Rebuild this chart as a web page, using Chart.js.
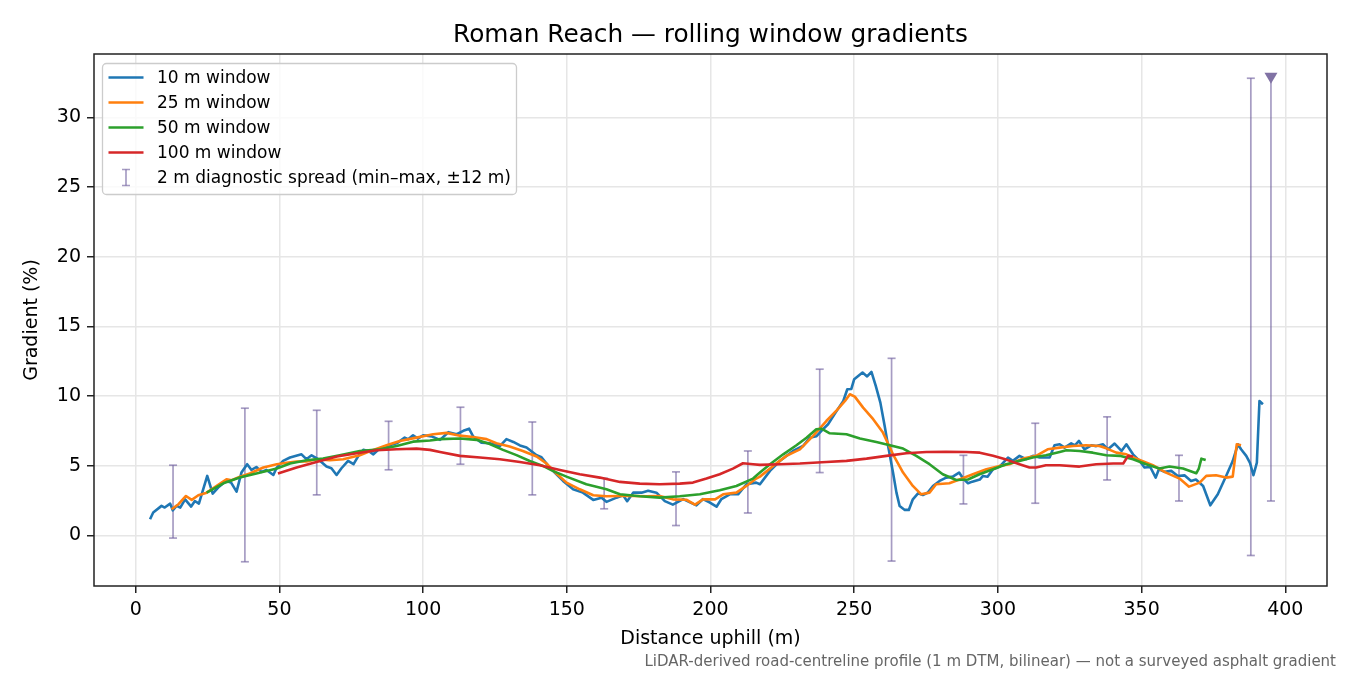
<!DOCTYPE html>
<html><head><meta charset="utf-8">
<script src="https://cdn.jsdelivr.net/npm/chart.js@4.4.0/dist/chart.umd.min.js"></script>
<style>html,body{margin:0;padding:0;background:#fff}canvas{display:block}</style>
</head><body>
<canvas id="c" width="1350" height="675"></canvas>
<script>
// ---------- data ----------
const titleText = 'Roman Reach — rolling window gradients';
const footText = 'LiDAR-derived road-centreline profile (1 m DTM, bilinear) — not a surveyed asphalt gradient';
const xAxisLabel = 'Distance uphill (m)';
const yAxisLabel = 'Gradient (%)';
const xTickVals = [0, 50, 100, 150, 200, 250, 300, 350, 400];
const yTickVals = [0, 5, 10, 15, 20, 25, 30];

const seriesLabels = ['10 m window', '25 m window', '50 m window', '100 m window'];
const seriesColors = ['#1f77b4', '#ff7f0e', '#2ca02c', '#d62728'];
const spreadLabel = '2 m diagnostic spread (min–max, ±12 m)';

const w10Dist = [5.0,6.1,9.0,10.1,12.0,12.9,14.2,15.5,17.2,19.3,20.6,22.0,24.9,26.8,28.7,31.4,33.2,35.1,36.8,38.8,40.3,42.0,43.8,45.5,47.9,49.1,51.3,53.7,57.7,59.4,61.2,63.5,66.4,68.1,69.9,71.6,73.9,75.8,77.5,79.2,81.0,82.7,84.4,87.3,90.8,93.6,94.8,96.5,98.2,100.0,103.0,105.9,108.8,111.7,114.0,116.0,117.4,120.3,123.2,126.7,129.0,131.4,133.7,136.0,139.5,141.2,143.5,145.8,148.7,152.2,155.6,159.2,162.1,163.8,167.3,169.6,171.0,173.1,176.0,178.3,181.2,184.1,186.9,190.5,195.1,197.4,199.8,202.1,203.8,206.7,209.6,212.5,215.9,217.2,220.7,224.1,228.7,232.2,234.5,236.8,238.6,240.9,243.9,246.2,247.6,249.0,250.0,252.9,254.5,256.0,257.5,259.1,260.6,261.8,263.5,264.7,265.8,267.6,269.0,270.4,272.2,273.9,275.6,277.4,279.7,282.0,284.3,286.5,287.9,289.6,291.1,293.7,294.8,296.4,298.3,300.6,303.5,305.2,307.5,309.8,312.2,314.5,318.0,319.7,321.5,323.2,325.5,326.8,328.2,330.1,332.5,334.2,336.6,338.3,340.6,343.0,344.7,347.0,349.3,351.0,353.0,354.9,356.0,358.0,360.3,362.6,364.9,367.2,368.9,371.4,373.9,376.5,379.4,381.7,383.5,384.6,386.4,387.7,388.9,390.1,391.0,392.2];
const w10Grad = [1.15,1.63,2.11,1.99,2.27,1.79,2.11,1.99,2.58,2.06,2.46,2.27,4.26,2.99,3.42,3.9,3.78,3.13,4.5,5.1,4.69,4.9,4.55,4.69,4.33,4.86,5.34,5.58,5.81,5.46,5.74,5.46,4.93,4.81,4.33,4.81,5.34,5.1,5.7,6.13,6.05,5.81,6.13,6.41,6.6,7.01,6.89,7.18,6.94,7.18,7.1,6.85,7.4,7.25,7.5,7.65,7.1,6.65,6.6,6.4,6.9,6.7,6.45,6.3,5.75,5.6,5.0,4.5,3.9,3.3,3.06,2.54,2.7,2.4,2.7,2.87,2.45,3.06,3.06,3.2,3.06,2.45,2.2,2.6,2.15,2.6,2.35,2.05,2.6,2.94,2.94,3.66,3.78,3.66,4.62,5.33,6.05,6.41,7.0,7.1,7.5,7.97,8.93,9.64,10.48,10.5,11.2,11.68,11.4,11.73,10.72,9.52,7.85,6.41,4.5,3.06,2.1,1.82,1.82,2.58,3.01,2.89,3.06,3.54,3.9,4.14,4.21,4.5,4.07,3.73,3.85,4.0,4.26,4.2,4.74,4.93,5.58,5.34,5.7,5.46,5.7,5.58,5.58,6.46,6.53,6.29,6.6,6.45,6.77,6.17,6.46,6.4,6.53,6.17,6.58,6.05,6.53,5.81,5.34,4.86,4.9,4.14,4.74,4.55,4.62,4.26,4.3,3.9,4.0,3.54,2.15,2.94,4.26,5.33,6.53,6.17,5.7,5.2,4.31,5.22,9.64,9.4];

const w25Dist = [12.5,14.9,17.5,19.5,21.8,24.7,28.2,31.6,33.4,36.3,39.7,44.4,49.1,52.5,56.0,59.5,62.9,67.5,72.2,78.0,82.7,87.3,91.9,97.7,100.5,103.5,108.2,112.8,117.4,122.1,125.5,130.1,134.7,139.5,142.8,146.3,149.9,154.5,159.2,163.8,168.5,173.1,177.7,182.3,186.9,191.6,194.6,197.4,201.6,204.4,209.0,212.5,215.9,217.2,221.8,226.4,231.1,235.7,240.3,243.9,246.8,248.5,250.2,253.1,256.6,260.0,263.5,267.0,270.4,273.3,276.2,278.5,283.1,286.6,291.3,296.0,300.6,304.0,308.7,313.3,317.3,321.5,326.1,330.7,335.3,337.7,341.2,344.7,349.3,353.9,358.5,363.2,366.5,370.2,372.5,375.9,379.4,381.7,383.1,384.6];
const w25Grad = [1.87,2.23,2.82,2.54,2.87,3.06,3.54,4.02,3.95,4.21,4.43,4.86,5.1,5.2,5.3,5.3,5.46,5.38,5.46,5.74,6.13,6.46,6.77,7.01,7.13,7.25,7.35,7.15,7.05,6.9,6.6,6.37,6.05,5.65,5.17,4.45,3.78,3.3,2.87,2.8,2.82,2.82,2.8,2.82,2.58,2.55,2.2,2.58,2.58,2.94,3.06,3.54,4.07,4.21,4.98,5.7,6.17,7.13,8.2,8.97,9.64,10.12,9.95,9.16,8.33,7.37,5.81,4.5,3.54,2.94,3.06,3.66,3.73,4.0,4.38,4.74,4.98,5.1,5.5,5.7,6.17,6.29,6.41,6.46,6.41,6.24,5.93,5.81,5.41,5.03,4.5,4.07,3.49,3.78,4.26,4.31,4.14,4.21,6.53,6.46];

const w50Dist = [24.7,30.5,36.2,42.0,49.1,53.7,59.5,65.2,71.0,78.0,85.0,90.8,96.5,102.4,105.9,112.8,118.6,123.2,127.8,132.5,137.1,141.7,145.1,149.9,156.8,163.8,168.5,175.4,182.3,189.3,196.3,203.2,209.0,214.8,217.2,220.7,225.3,229.9,233.4,236.8,238.6,241.5,247.3,252.0,257.7,262.4,267.0,271.6,276.2,280.8,285.5,289.6,293.6,298.3,302.9,307.5,312.1,316.7,321.5,323.8,328.4,333.0,337.7,342.4,347.0,351.6,356.2,359.7,364.4,369.0,369.9,370.8,372.3];
const w50Grad = [3.06,3.73,4.14,4.43,4.79,5.15,5.38,5.5,5.74,6.05,6.17,6.41,6.72,6.8,6.9,6.95,6.85,6.55,6.13,5.75,5.33,4.98,4.62,4.21,3.66,3.3,2.94,2.8,2.7,2.8,2.94,3.23,3.54,4.07,4.5,5.1,5.81,6.46,7.0,7.61,7.65,7.32,7.25,6.94,6.7,6.46,6.22,5.7,5.1,4.38,3.97,4.0,4.38,4.74,5.1,5.34,5.58,5.74,5.98,6.1,6.05,5.93,5.74,5.7,5.46,5.1,4.79,4.93,4.79,4.45,4.79,5.5,5.41];

const w100Dist = [49.5,56.0,62.9,70.0,76.9,83.8,90.8,97.7,102.4,105.9,112.8,119.8,126.7,133.7,140.6,147.6,154.5,161.5,168.5,175.4,182.3,189.3,193.9,198.6,203.2,207.8,211.3,214.8,217.2,224.1,231.1,240.3,247.3,254.3,261.2,268.1,275.1,282.0,289.0,293.7,298.3,302.9,307.5,311.0,313.3,316.7,321.5,328.4,334.2,340.1,343.6,345.3,347.0];
const w100Grad = [4.43,4.86,5.26,5.65,5.89,6.1,6.17,6.22,6.13,5.98,5.7,5.58,5.46,5.26,5.03,4.69,4.38,4.14,3.83,3.71,3.66,3.71,3.78,4.07,4.38,4.78,5.17,5.1,5.05,5.1,5.15,5.26,5.34,5.5,5.7,5.89,5.98,6.0,5.98,5.93,5.7,5.43,5.1,4.86,4.86,5.03,5.03,4.93,5.1,5.15,5.15,5.7,5.65];

// 2 m diagnostic spread (min / max), last one runs off the top of the axis
const spreadDist = [13, 38, 63, 88, 113, 138, 163, 188, 213, 238, 263, 288, 313, 338, 363, 388, 395];
const spreadMin  = [-0.2, -1.9, 2.9, 4.7, 5.1, 2.9, 1.9, 0.7, 1.6, 4.5, -1.85, 2.25, 2.3, 3.97, 2.46, -1.45, 2.46];
const spreadMax  = [5.03, 9.12, 8.97, 8.18, 9.19, 8.13, 4.09, 4.55, 6.05, 11.92, 12.7, 5.74, 8.04, 8.5, 5.74, 32.8, 32.8];
const spreadOffScale = [false,false,false,false,false,false,false,false,false,false,false,false,false,false,false,false,true];

const xRange = [-14.5, 414.5];
const yRange = [-3.64, 34.54];

// ---------- drawing ----------
const FONT = 'DejaVu Sans';
const ERR_COLOR = 'rgba(112,96,158,0.62)';
const MARK_COLOR = 'rgb(128,114,164)';

function pts(xs, ys) { return xs.map((x, i) => ({ x: x, y: ys[i] })); }

const mplPlugin = {
  id: 'mpl',
  beforeDatasetsDraw(chart) {
    const { ctx, chartArea: a, scales: { x, y } } = chart;
    ctx.save();
    ctx.beginPath(); ctx.rect(a.left, a.top, a.right - a.left, a.bottom - a.top); ctx.clip();
    ctx.strokeStyle = ERR_COLOR; ctx.lineWidth = 1.7;
    for (let i = 0; i < spreadDist.length; i++) {
      const px = x.getPixelForValue(spreadDist[i]);
      const p0 = y.getPixelForValue(spreadMin[i]);
      const p1 = y.getPixelForValue(spreadMax[i]);
      ctx.beginPath(); ctx.moveTo(px, p0); ctx.lineTo(px, p1); ctx.stroke();
      ctx.beginPath(); ctx.moveTo(px - 4, p0); ctx.lineTo(px + 4, p0); ctx.stroke();
      if (!spreadOffScale[i]) {
        ctx.beginPath(); ctx.moveTo(px - 4, p1); ctx.lineTo(px + 4, p1); ctx.stroke();
      }
    }
    ctx.restore();
  },
  afterDatasetsDraw(chart) {
    const { ctx, scales: { x, y } } = chart;
    // off-scale markers
    ctx.save();
    ctx.fillStyle = MARK_COLOR;
    for (let i = 0; i < spreadDist.length; i++) {
      if (!spreadOffScale[i]) continue;
      const px = x.getPixelForValue(spreadDist[i]);
      const py = y.getPixelForValue(spreadMax[i]);
      ctx.beginPath();
      ctx.moveTo(px - 6.5, py - 5.5); ctx.lineTo(px + 6.5, py - 5.5); ctx.lineTo(px, py + 5.5);
      ctx.closePath(); ctx.fill();
    }
    ctx.restore();
    // legend
    const L = 102.5, T = 63.5, R = 516.5, B = 194.5, rad = 4;
    ctx.save();
    ctx.beginPath();
    ctx.moveTo(L + rad, T); ctx.lineTo(R - rad, T); ctx.arcTo(R, T, R, T + rad, rad);
    ctx.lineTo(R, B - rad); ctx.arcTo(R, B, R - rad, B, rad);
    ctx.lineTo(L + rad, B); ctx.arcTo(L, B, L, B - rad, rad);
    ctx.lineTo(L, T + rad); ctx.arcTo(L, T, L + rad, T, rad); ctx.closePath();
    ctx.fillStyle = 'rgba(255,255,255,0.8)'; ctx.fill();
    ctx.strokeStyle = '#cccccc'; ctx.lineWidth = 1.3; ctx.stroke();
    const rows = [77.5, 102.5, 127.5, 152.5, 177.5];
    ctx.font = '17px "' + FONT + '"'; ctx.textBaseline = 'middle'; ctx.textAlign = 'left';
    chart.data.datasets.forEach((ds, i) => {
      ctx.strokeStyle = ds.borderColor; ctx.lineWidth = 2.6;
      ctx.beginPath(); ctx.moveTo(108.5, rows[i]); ctx.lineTo(143.5, rows[i]); ctx.stroke();
      ctx.fillStyle = '#000'; ctx.fillText(ds.label, 157, rows[i] + 1);
    });
    const ey = rows[4];
    ctx.strokeStyle = ERR_COLOR; ctx.lineWidth = 1.7;
    ctx.beginPath(); ctx.moveTo(126, ey - 8); ctx.lineTo(126, ey + 8); ctx.stroke();
    ctx.beginPath(); ctx.moveTo(122, ey - 8); ctx.lineTo(130, ey - 8); ctx.moveTo(122, ey + 8); ctx.lineTo(130, ey + 8); ctx.stroke();
    ctx.fillStyle = '#000'; ctx.fillText(spreadLabel, 157, ey + 1);
    ctx.restore();
  },
  afterDraw(chart) {
    const { ctx, chartArea: a } = chart;
    ctx.save();
    ctx.strokeStyle = '#222'; ctx.lineWidth = 1.5;
    ctx.strokeRect(a.left, a.top, a.right - a.left, a.bottom - a.top);
    ctx.fillStyle = '#000'; ctx.textAlign = 'center'; ctx.textBaseline = 'alphabetic';
    ctx.font = '24.8px "' + FONT + '"';
    ctx.fillText(titleText, (a.left + a.right) / 2, 41.5);
    ctx.fillStyle = '#666'; ctx.textAlign = 'right';
    ctx.font = '15px "' + FONT + '"';
    ctx.fillText(footText, 1336, 666);
    ctx.restore();
  }
};

const gridOpts = { color: '#e6e6e6', lineWidth: 1.5, tickColor: '#222', tickLength: 7, tickWidth: 1.5 };
const tickFont = { family: FONT, size: 19 };

const datasets = [
  [w10Dist, w10Grad], [w25Dist, w25Grad], [w50Dist, w50Grad], [w100Dist, w100Grad]
].map((s, i) => ({
  label: seriesLabels[i],
  data: pts(s[0], s[1]),
  showLine: true, borderColor: seriesColors[i], backgroundColor: seriesColors[i],
  borderWidth: 2.6, pointRadius: 0, pointHoverRadius: 0, tension: 0, fill: false,
  borderJoinStyle: 'round', borderCapStyle: 'butt',
  order: 4 - i
}));

new Chart(document.getElementById('c'), {
  type: 'scatter',
  data: { datasets: datasets },
  options: {
    responsive: false, animation: false, devicePixelRatio: 1,
    layout: { padding: { top: 54, right: 23, left: 0, bottom: 0 } },
    plugins: { legend: { display: false }, tooltip: { enabled: false }, title: { display: false } },
    events: [],
    scales: {
      x: {
        type: 'linear', min: xRange[0], max: xRange[1], offset: false,
        afterFit: s => { s.height = 89; },
        afterBuildTicks: s => { s.ticks = xTickVals.map(v => ({ value: v })); },
        grid: gridOpts, border: { display: false },
        ticks: { font: tickFont, color: '#000', padding: 6, maxRotation: 0, autoSkip: false, callback: v => String(v) },
        title: { display: true, text: xAxisLabel, font: tickFont, color: '#000', padding: { top: 0, bottom: 25 } }
      },
      y: {
        type: 'linear', min: yRange[0], max: yRange[1],
        afterFit: s => { s.width = 94; },
        afterBuildTicks: s => { s.ticks = yTickVals.map(v => ({ value: v })); },
        grid: gridOpts, border: { display: false },
        ticks: { font: tickFont, color: '#000', padding: 6, autoSkip: false, callback: v => String(v) },
        title: { display: true, text: yAxisLabel, font: tickFont, color: '#000', padding: { top: 21, bottom: 0 } }
      }
    }
  },
  plugins: [mplPlugin]
});
</script>
</body></html>
